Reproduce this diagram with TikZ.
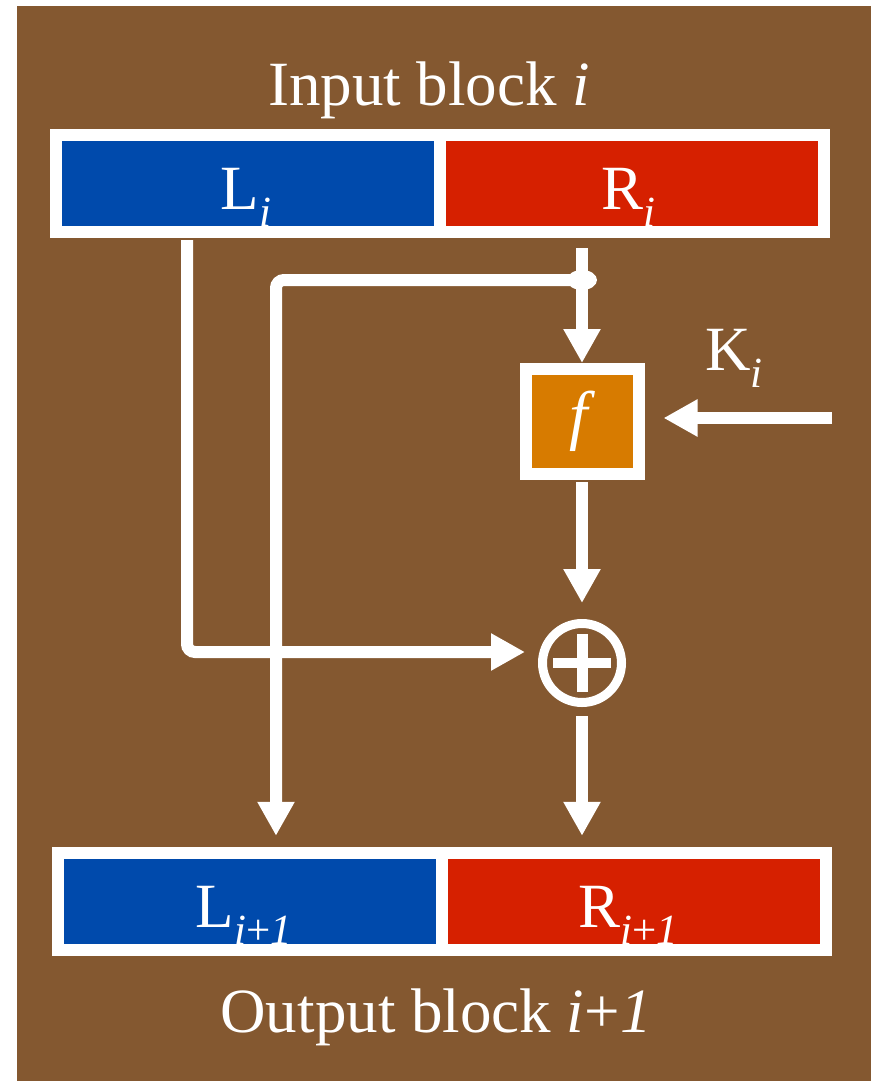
\documentclass[tikz,border=0pt]{standalone}
\usepackage{fontspec}
\setmainfont{Liberation Serif}
\usetikzlibrary{arrows.meta}
\definecolor{bgbrown}{RGB}{132,88,48}
\definecolor{lblue}{RGB}{0,74,172}
\definecolor{rred}{RGB}{214,32,0}
\definecolor{forange}{RGB}{215,123,0}
\newcommand\mysub[1]{\raisebox{-17pt}{\fontsize{43}{43}\selectfont #1}}
\begin{document}
\begin{tikzpicture}[x=1pt,y=-1pt,
  blockframe/.style={fill=white,minimum width=780pt,minimum height=109pt,inner sep=0pt},
  lbox/.style={fill=lblue,minimum width=372pt,minimum height=85pt,inner sep=0pt},
  rbox/.style={fill=rred,minimum width=372pt,minimum height=85pt,inner sep=0pt},
  lab/.style={text=white,font=\fontsize{63}{70}\selectfont,inner sep=0pt,anchor=base},
  fbox/.style={fill=forange,draw=white,line width=12pt,minimum width=113pt,minimum height=105pt,inner sep=0pt,text=white,font=\fontsize{66}{70}\selectfont},
  xorop/.style={circle,draw=white,line width=9pt,minimum size=79pt,inner sep=0pt},
  arr/.style={draw=white,line width=12pt,-{Triangle[length=34pt,width=35pt]}}]
\useasboundingbox (0,0) rectangle (871,1081);
\fill[white] (0,0) rectangle (871,1081);
\fill[bgbrown] (17,6) rectangle (871,1081);
% input block
\node[lab] (intitle) at (429,105) {Input block \textit{i}};
\node[blockframe] (inblk) at (440,183.5) {};
\node[lbox] (Li) at (248,183.5) {};
\node[rbox] (Ri) at (632,183.5) {};
\node[lab] (Litxt) at (246,209) {L\mysub{\textit{i}}};
\node[lab] (Ritxt) at (628,209) {R\mysub{\textit{i}}};
% output block
\node[blockframe] (outblk) at (442,901.5) {};
\node[lbox] (Lo) at (250,901.5) {};
\node[rbox] (Ro) at (634,901.5) {};
\node[lab] (Lotxt) at (244,927) {L\mysub{\textit{i}+\textit{1}}};
\node[lab] (Rotxt) at (628,927) {R\mysub{\textit{i}+\textit{1}}};
\node[lab] (outtitle) at (436,1032) {Output block \textit{i}+\textit{1}};
% f and xor
\node[fbox] (f) at (582,421.5) {\textit{f}};
\node[xorop] (xor) at (582,663) {};
\draw[white,line width=10pt] ([xshift=-29pt]xor.center) -- ([xshift=29pt]xor.center);
\draw[white,line width=11pt] ([yshift=-29pt]xor.center) -- ([yshift=29pt]xor.center);
% K label
\node[lab,anchor=base west] (Ki) at (705,370) {K\mysub{\textit{i}}};
\coordinate (kin) at (832,418);
\coordinate (split) at (582,280);
% connectors
\draw[arr,rounded corners=8pt,shorten >=13pt] ([xshift=-253pt,yshift=-2pt]inblk.south) |- ([yshift=11pt]xor.west);
\draw[arr] ([xshift=142pt,yshift=-10pt]inblk.south) -- (f.north);
\draw[arr,rounded corners=8pt,shorten >=11pt] (split) -| ([xshift=-166pt]outblk.north);
\fill[white] (split) ellipse [x radius=15pt,y radius=10pt];
\draw[arr,shorten >=19pt] (kin) -- (f.east |- kin);
\draw[arr,shorten >=16pt] ([yshift=-2pt]f.south) -- (xor.north);
\draw[arr,shorten >=11pt] ([yshift=-9pt]xor.south) -- (xor.south |- outblk.north);
\end{tikzpicture}
\end{document}
